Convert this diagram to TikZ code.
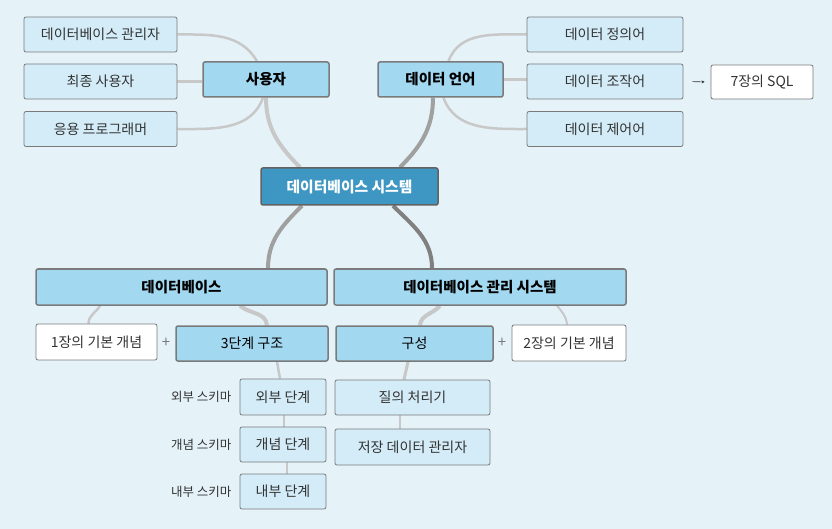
\documentclass[tikz,border=0pt]{standalone}
\usepackage{fontspec}
\setmainfont{Noto Sans CJK KR}
\usepackage{tikz}
\usetikzlibrary{calc,backgrounds,arrows.meta}

\definecolor{bgblue}{HTML}{E5F3F9}
\definecolor{leafblue}{HTML}{D3ECF8}
\definecolor{midblue}{HTML}{A3D8F1}
\definecolor{coreblue}{HTML}{3E97C3}
\definecolor{boxgray}{HTML}{7A7A7A}
\definecolor{linelight}{HTML}{C8C8C8}
\definecolor{linedark}{HTML}{A0A0A0}
\definecolor{textgray}{HTML}{333333}

\tikzset{
  box/.style={draw=boxgray,rounded corners=2pt,inner sep=0pt,
    font=\fontsize{14}{16}\selectfont,text=textgray},
  leaf/.style={box,fill=leafblue,line width=0.8pt},
  topic/.style={box,fill=midblue,line width=1.5pt,text=black,
    font=\fontsize{14.5}{16}\selectfont\bfseries},
  core/.style={box,fill=coreblue,draw=boxgray!80!black,line width=1.5pt,text=white,
    font=\fontsize{14.8}{16}\selectfont\bfseries},
  note/.style={box,fill=white,line width=0.8pt},
  tag/.style={font=\fontsize{12.5}{14}\selectfont,text=textgray,inner sep=0pt},
  branch/.style={line width=4pt,linelight},
  twig/.style={line width=2.5pt,linelight}
}

\begin{document}
\begin{tikzpicture}[x=1pt,y=-1pt]
    % left: users
    \node[leaf,minimum width=153pt,minimum height=35pt] (dba) at (100.5,34.5) {데이터베이스 관리자};
    \node[leaf,minimum width=153pt,minimum height=35pt] (enduser) at (100.5,81.5) {최종 사용자};
    \node[leaf,minimum width=153pt,minimum height=35pt] (prog) at (100.5,129) {응용 프로그래머};
    \node[topic,minimum width=126pt,minimum height=35pt] (user) at (266,79.5) {사용자};

    % right: languages
    \node[topic,minimum width=125pt,minimum height=35pt] (lang) at (440.5,79.5) {데이터 언어};
    \node[leaf,minimum width=156pt,minimum height=35pt] (ddl) at (605,34.5) {데이터 정의어};
    \node[leaf,minimum width=156pt,minimum height=35pt] (dml) at (605,81.5) {데이터 조작어};
    \node[leaf,minimum width=156pt,minimum height=35pt] (dcl) at (605,129) {데이터 제어어};
    \node[note,minimum width=102pt,minimum height=34pt] (sql) at (762,82) {7장의 SQL};

    % centre
    \node[core,minimum width=177pt,minimum height=37pt] (dbs) at (349.5,186.5) {데이터베이스 시스템};

    % lower half
    \node[topic,minimum width=291pt,minimum height=36pt] (db) at (181.5,287) {데이터베이스};
    \node[topic,minimum width=292pt,minimum height=36pt] (dbms) at (480,287) {데이터베이스 관리 시스템};

    \node[note,minimum width=121pt,minimum height=36pt] (basic1) at (96.5,342) {1장의 기본 개념};
    \node[topic,minimum width=152pt,minimum height=35pt,font=\fontsize{14}{16}\selectfont] (three) at (252,343.5) {3단계 구조};
    \node[topic,minimum width=157pt,minimum height=35pt,font=\fontsize{14}{16}\selectfont] (comp) at (414.5,343.5) {구성};
    \node[note,minimum width=114pt,minimum height=36pt] (basic2) at (569,343) {2장의 기본 개념};
    \node[tag,text=boxgray,font=\fontsize{15}{16}\selectfont] (plus1) at (166,343) {+};
    \node[tag,text=boxgray,font=\fontsize{15}{16}\selectfont] (plus2) at (502,343) {+};

    \node[leaf,minimum width=86pt,minimum height=36pt] (ext) at (283,397) {외부 단계};
    \node[leaf,minimum width=86pt,minimum height=35pt] (con) at (283,444.5) {개념 단계};
    \node[leaf,minimum width=86pt,minimum height=35pt] (int) at (283,491.5) {내부 단계};
    \node[tag,anchor=east] (extlbl) at ([xshift=-8pt]ext.west) {외부 스키마};
    \node[tag,anchor=east] (conlbl) at ([xshift=-8pt]con.west) {개념 스키마};
    \node[tag,anchor=east] (intlbl) at ([xshift=-8pt]int.west) {내부 스키마};

    \node[leaf,minimum width=155pt,minimum height=35pt] (qp) at (412.5,397.5) {질의 처리기};
    \node[leaf,minimum width=155pt,minimum height=36pt] (sdm) at (412.5,447) {저장 데이터 관리자};

    \draw[-{Stealth[length=3pt,width=3pt]},textgray,line width=0.6pt,shorten <=9pt,shorten >=6pt]
      (dml.east) -- (sql.west);

    \begin{pgfonlayer}{background}
      \fill[bgblue] (0,0) rectangle (832,529);

      % main branches
      \draw[branch] (user.south) to[out=-90,in=135] ([xshift=-49.5pt]dbs.north);
      \draw[branch,linedark] ([xshift=-7.5pt]lang.south) to[out=-90,in=45] ([xshift=50.5pt]dbs.north);
      \draw[branch,linedark] ([xshift=-47.5pt]dbs.south) to[out=-135,in=90] ([xshift=86.5pt]db.north);
      \draw[branch,linedark!80!black] ([xshift=43.5pt]dbs.south) to[out=-45,in=90] ([xshift=-48pt]dbms.north);

      % users
      \draw[twig] (dba.east) to[out=0,in=120] ([xshift=-9pt]user.north);
      \draw[twig] (enduser.east) -- (enduser.east -| user.west);
      \draw[twig] (prog.east) to[out=0,in=-110] ([xshift=-3pt]user.south);

      % languages
      \draw[twig] ([xshift=8pt]lang.north) to[out=70,in=180] (ddl.west);
      \draw[twig] (lang.east) -- (lang.east -| dml.west);
      \draw[twig] ([xshift=3pt]lang.south) to[out=-70,in=180] (dcl.west);

      % database
      \draw[twig] ([xshift=-81.5pt]db.south) to[out=-120,in=90] ([xshift=-8pt]basic1.north);
      \draw[branch] ([xshift=58.5pt]db.south) to[out=-40,in=95] ([xshift=15pt]three.north);
      \draw[twig] ([xshift=25pt]three.south) -- ([xshift=-3pt]ext.north);
      \draw[twig,line width=2pt] ([xshift=1pt]ext.south) -- ([xshift=1pt]con.north);
      \draw[twig,line width=2pt] ([xshift=4pt]con.south) -- ([xshift=4pt]int.north);

      % dbms
      \draw[branch] ([xshift=-40pt]dbms.south) to[out=-130,in=85] ([xshift=5.5pt]comp.north);
      \draw[twig,line width=2pt] ([xshift=77pt]dbms.south) to[out=-50,in=95] ([xshift=-2pt]basic2.north);
      \draw[branch,line width=3pt] ([xshift=-6.5pt]comp.south) -- ([xshift=-8.5pt]qp.north);
      \draw[twig,line width=2pt] ([xshift=-12.5pt]qp.south) -- ([xshift=-12.5pt]sdm.north);
    \end{pgfonlayer}
\end{tikzpicture}
\end{document}
